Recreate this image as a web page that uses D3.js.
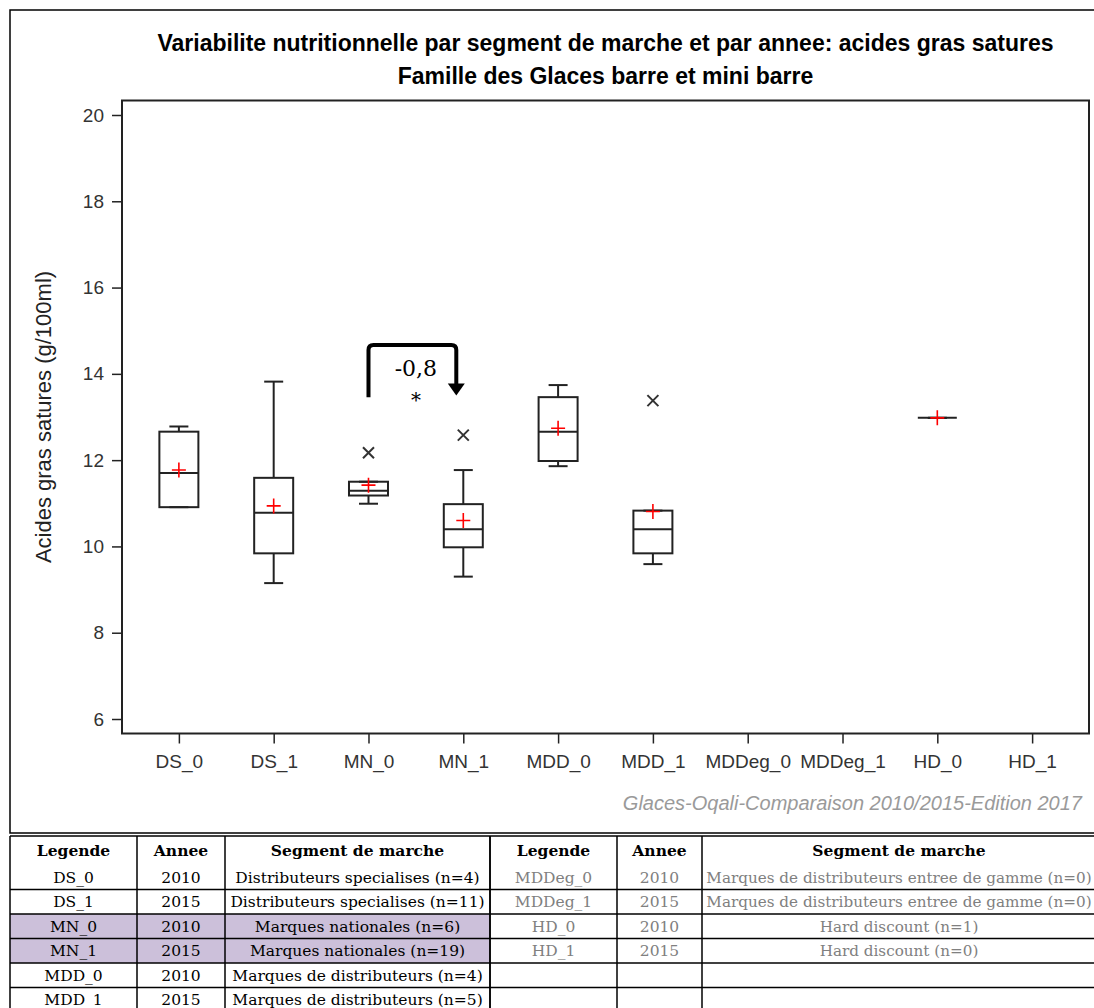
<!DOCTYPE html>
<html>
<head>
<meta charset="utf-8">
<script src="https://cdn.jsdelivr.net/npm/d3@7"></script>
<style>
  body { margin: 0; background: #fff; }
</style>
</head>
<body>
<div id="chart"></div>
<script>
// Box plot values (g/100ml); null = no product
const categories  = ["DS_0", "DS_1", "MN_0", "MN_1", "MDD_0", "MDD_1", "MDDeg_0", "MDDeg_1", "HD_0", "HD_1"];
const whiskerLow  = [10.91,  9.15, 10.99,  9.30, 11.86,  9.59, null, null, 12.98, null];
const q1          = [10.91,  9.84, 11.18,  9.98, 11.98,  9.84, null, null, 12.98, null];
const medians     = [11.70, 10.78, 11.29, 10.40, 12.66, 10.40, null, null, 12.98, null];
const q3          = [12.66, 11.59, 11.50, 10.98, 13.46, 10.83, null, null, 12.98, null];
const whiskerHigh = [12.78, 13.82, 11.50, 11.77, 13.74, 10.83, null, null, 12.98, null];
const means       = [11.77, 10.94, 11.42, 10.60, 12.74, 10.81, null, null, 12.98, null];
const outliers    = [[], [], [12.17], [12.58], [], [13.38], [], [], [], []];
const yTicks = [6, 8, 10, 12, 14, 16, 18, 20];

// Significant difference annotation
const diffFrom = "MN_0", diffTo = "MN_1";
const diffLabel = "-0,8", diffSig = "*";
const bracketStart = 13.46, bracketTop = 14.67, arrowTip = 13.5;

// Legend tables under the chart
const tableHeaders = ["Legende", "Annee", "Segment de marche"];
const leftCodes    = ["DS_0", "DS_1", "MN_0", "MN_1", "MDD_0", "MDD_1"];
const leftYears    = ["2010", "2015", "2010", "2015", "2010", "2015"];
const leftSegments = ["Distributeurs specialises (n=4)", "Distributeurs specialises (n=11)",
                      "Marques nationales (n=6)", "Marques nationales (n=19)",
                      "Marques de distributeurs (n=4)", "Marques de distributeurs (n=5)"];
const rightCodes    = ["MDDeg_0", "MDDeg_1", "HD_0", "HD_1", "", ""];
const rightYears    = ["2010", "2015", "2010", "2015", "", ""];
const rightSegments = ["Marques de distributeurs entree de gamme (n=0)", "Marques de distributeurs entree de gamme (n=0)",
                       "Hard discount (n=1)", "Hard discount (n=0)", "", ""];
const highlightRows = ["MN_0", "MN_1"];

const width = 1094, height = 1008;
const plot = { left: 122, right: 1089, top: 100.5, bottom: 733.5 };
const sans = "'Liberation Sans', Arial, sans-serif";
const serif = "'DejaVu Serif', 'Liberation Serif', serif";

const svg = d3.select("#chart").append("svg")
  .attr("width", width)
  .attr("height", height);

// Outer frame around the graph
svg.append("rect")
  .attr("x", 10).attr("y", 10)
  .attr("width", 1100).attr("height", 823)
  .attr("fill", "none").attr("stroke", "#000").attr("stroke-width", 1.5);

// Scales
const x = d3.scalePoint()
  .domain(categories)
  .range([plot.left, plot.right])
  .padding(0.6);

const y = d3.scaleLinear()
  .domain([5.664, 20.336])
  .range([plot.bottom, plot.top]);

// Title
svg.append("text")
  .attr("x", (plot.left + plot.right) / 2).attr("y", 51)
  .attr("text-anchor", "middle")
  .style("font-family", sans).style("font-weight", "bold").style("font-size", "23px")
  .text("Variabilite nutritionnelle par segment de marche et par annee: acides gras satures");
svg.append("text")
  .attr("x", (plot.left + plot.right) / 2).attr("y", 84)
  .attr("text-anchor", "middle")
  .style("font-family", sans).style("font-weight", "bold").style("font-size", "23px")
  .text("Famille des Glaces barre et mini barre");

// Axes
const yAxis = svg.append("g")
  .attr("transform", `translate(${plot.left},0)`)
  .call(d3.axisLeft(y).tickValues(yTicks).tickSize(10).tickPadding(8));
const xAxis = svg.append("g")
  .attr("transform", `translate(0,${plot.bottom})`)
  .call(d3.axisBottom(x).tickSize(10).tickPadding(11));

[yAxis, xAxis].forEach(g => {
  g.select(".domain").remove();
  g.selectAll(".tick line").attr("stroke", "#222").attr("stroke-width", 1.5);
  g.selectAll(".tick text")
    .attr("fill", "#333")
    .style("font-family", sans)
    .style("font-size", "19px");
});

// Plot frame
svg.append("rect")
  .attr("x", plot.left).attr("y", plot.top)
  .attr("width", plot.right - plot.left).attr("height", plot.bottom - plot.top)
  .attr("fill", "none").attr("stroke", "#222").attr("stroke-width", 2);

// Y axis label
svg.append("text")
  .attr("transform", `translate(43,${(plot.top + plot.bottom) / 2}) rotate(-90)`)
  .attr("text-anchor", "middle")
  .attr("dy", "0.35em")
  .attr("fill", "#222")
  .style("font-family", sans).style("font-size", "22px")
  .text("Acides gras satures (g/100ml)");

// Box plots
const boxes = categories.map((c, i) => ({
  cat: c, lo: whiskerLow[i], q1: q1[i], med: medians[i], q3: q3[i],
  hi: whiskerHigh[i], mean: means[i], out: outliers[i]
}));
const boxW = 39, capW = 19;

const boxG = svg.append("g")
  .attr("fill", "none")
  .attr("stroke", "#222")
  .attr("stroke-width", 2);

boxes.filter(d => d.med != null).forEach(d => {
  const cx = x(d.cat);
  // whiskers
  boxG.append("line").attr("x1", cx).attr("x2", cx).attr("y1", y(d.q3)).attr("y2", y(d.hi));
  boxG.append("line").attr("x1", cx).attr("x2", cx).attr("y1", y(d.q1)).attr("y2", y(d.lo));
  boxG.append("line").attr("x1", cx - capW / 2).attr("x2", cx + capW / 2).attr("y1", y(d.hi)).attr("y2", y(d.hi));
  boxG.append("line").attr("x1", cx - capW / 2).attr("x2", cx + capW / 2).attr("y1", y(d.lo)).attr("y2", y(d.lo));
  // box + median
  boxG.append("rect")
    .attr("x", cx - boxW / 2).attr("y", y(d.q3))
    .attr("width", boxW).attr("height", y(d.q1) - y(d.q3));
  boxG.append("line").attr("x1", cx - boxW / 2).attr("x2", cx + boxW / 2).attr("y1", y(d.med)).attr("y2", y(d.med));

  // mean marker
  const my = y(d.mean);
  svg.append("path")
    .attr("d", `M${cx - 7},${my}H${cx + 7}M${cx},${my - 7.5}V${my + 7.5}`)
    .attr("stroke", "#ff0000").attr("stroke-width", 1.6).attr("fill", "none");

  // outliers
  d.out.forEach(v => {
    const oy = y(v);
    svg.append("path")
      .attr("d", `M${cx - 5.5},${oy - 5.5}L${cx + 5.5},${oy + 5.5}M${cx - 5.5},${oy + 5.5}L${cx + 5.5},${oy - 5.5}`)
      .attr("stroke", "#333").attr("stroke-width", 2).attr("fill", "none");
  });
});

// Difference annotation between MN_0 and MN_1
const ax0 = x(diffFrom), ax1 = x(diffTo) - 7;
const yTop = y(bracketTop), yTip = y(arrowTip), r = 5;
svg.append("path")
  .attr("d", `M${ax0},${y(bracketStart)}V${yTop + r}Q${ax0},${yTop} ${ax0 + r},${yTop}` +
             `H${ax1 - r}Q${ax1},${yTop} ${ax1},${yTop + r}V${yTip - 11}`)
  .attr("fill", "none").attr("stroke", "#000").attr("stroke-width", 4);
svg.append("path")
  .attr("d", `M${ax1 - 8.5},${yTip - 12}L${ax1 + 8.5},${yTip - 12}L${ax1},${yTip}Z`)
  .attr("fill", "#000");
svg.append("text")
  .attr("x", (x(diffFrom) + x(diffTo)) / 2).attr("y", 376)
  .attr("text-anchor", "middle")
  .style("font-family", serif).style("font-size", "22px")
  .text(diffLabel);
svg.append("text")
  .attr("x", (x(diffFrom) + x(diffTo)) / 2).attr("y", 407)
  .attr("text-anchor", "middle")
  .style("font-family", serif).style("font-size", "20px")
  .text(diffSig);

// Source footnote
svg.append("text")
  .attr("x", 1082).attr("y", 810)
  .attr("text-anchor", "end")
  .attr("fill", "#9a9a9a")
  .style("font-family", sans).style("font-style", "italic").style("font-size", "20px")
  .text("Glaces-Oqali-Comparaison 2010/2015-Edition 2017");

// Tables
const tableTop = 836, headerH = 29, rowH = 24.5;
const leftCols = [10, 137, 225, 490];
const rightCols = [490, 617, 702, 1096];
const nRows = leftCodes.length;
const rowY = i => tableTop + headerH + i * rowH;
const tableG = svg.append("g");

function drawTable(cols, codes, years, segments, color, highlight) {
  // highlighted rows
  codes.forEach((c, i) => {
    if (highlight.includes(c)) {
      tableG.append("rect")
        .attr("x", cols[0]).attr("y", rowY(i))
        .attr("width", cols[3] - cols[0]).attr("height", rowH)
        .attr("fill", "#ccc0da");
    }
  });
  // header
  tableHeaders.forEach((h, j) => {
    tableG.append("text")
      .attr("x", (cols[j] + cols[j + 1]) / 2).attr("y", tableTop + headerH / 2)
      .attr("dy", "0.36em").attr("text-anchor", "middle")
      .style("font-family", serif).style("font-weight", "bold").style("font-size", "15.5px")
      .text(h);
  });
  // rows
  codes.forEach((c, i) => {
    [c, years[i], segments[i]].forEach((t, j) => {
      tableG.append("text")
        .attr("x", (cols[j] + cols[j + 1]) / 2).attr("y", rowY(i) + rowH / 2)
        .attr("dy", "0.36em").attr("text-anchor", "middle")
        .attr("fill", color)
        .style("font-family", serif).style("font-size", j === 2 && cols === rightCols ? "15.2px" : "15.5px")
        .text(t);
    });
  });
  // grid lines
  const bottom = rowY(nRows);
  cols.forEach(cx => {
    tableG.append("line").attr("x1", cx).attr("x2", cx).attr("y1", tableTop).attr("y2", bottom)
      .attr("stroke", "#000").attr("stroke-width", 1.5);
  });
  d3.range(nRows + 1).forEach(i => {
    const ly = i === 0 ? tableTop : rowY(i - 1) + rowH;
    tableG.append("line").attr("x1", cols[0]).attr("x2", cols[3]).attr("y1", ly).attr("y2", ly)
      .attr("stroke", "#000").attr("stroke-width", 1.5);
  });
}

drawTable(leftCols, leftCodes, leftYears, leftSegments, "#000", highlightRows);
drawTable(rightCols, rightCodes, rightYears, rightSegments, "#808080", []);
</script>
</body>
</html>
